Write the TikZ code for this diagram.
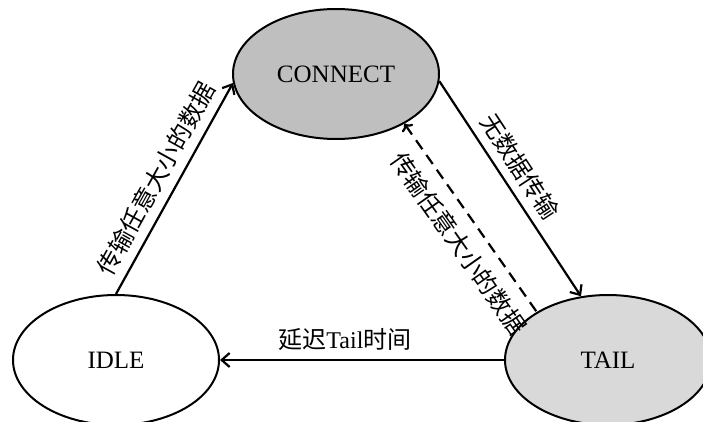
\documentclass[tikz,border=0pt]{standalone}
\usepackage{fontspec}
\setmainfont{Liberation Serif}
\newfontfamily\cjk{Noto Sans CJK SC}
\usetikzlibrary{shapes.geometric,arrows.meta}

\definecolor{connectgray}{gray}{0.75}
\definecolor{tailgray}{gray}{0.85}

\tikzset{
  state/.style={ellipse, draw, line width=2pt, minimum width=206pt,
    minimum height=130pt, inner sep=0pt, font=\fontsize{25}{30}\selectfont},
  trans/.style={line width=2.2pt, -{Straight Barb[length=8pt,width=14pt]}},
  lbl/.style={font=\cjk\fontsize{24}{28}\selectfont, inner sep=3pt}
}

\begin{document}
\begin{tikzpicture}[x=1pt, y=-1pt]
  \useasboundingbox (0,0) rectangle (703,422);

  % the three states
  \node[state, fill=connectgray] (connect) at (336,74) {CONNECT};
  \node[state] (idle) at (116,360) {IDLE};
  \node[state, fill=tailgray] (tail) at (608,360) {TAIL};

  % transitions
  \draw[trans] (idle.north) -- node[lbl, sloped, above=6pt, pos=0.5]
    {传输任意大小的数据} (connect.185);
  \draw[trans] (connect.-4) -- node[lbl, sloped, above=5pt, pos=0.45]
    {无数据传输} (tail.113);
  \draw[trans, dash pattern=on 11pt off 7pt, <-] (connect.-36) --
    node[lbl, sloped, below=9pt, pos=0.56] {传输任意大小的数据} (tail.146);
  \draw[trans] (tail.west) -- node[lbl, above=5pt, pos=0.56]
    {延迟{\fontspec{Liberation Serif}Tail}时间} (idle.east);
\end{tikzpicture}
\end{document}
